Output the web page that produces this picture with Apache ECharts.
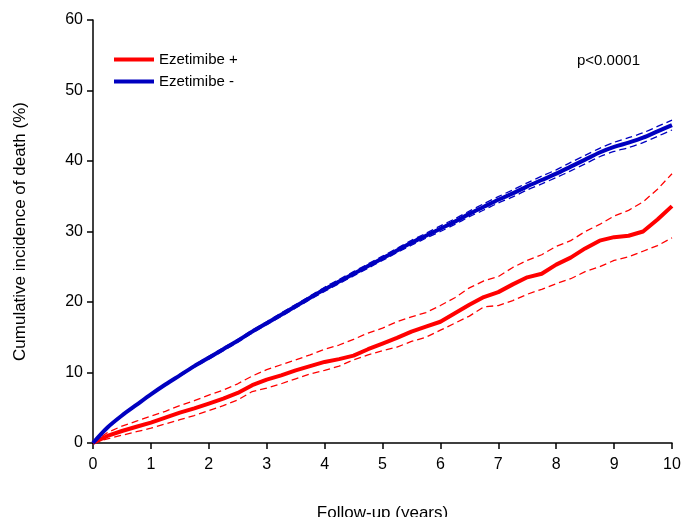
<!DOCTYPE html>
<html>
<head>
<meta charset="utf-8">
<script src="https://cdn.jsdelivr.net/npm/echarts@6/dist/echarts.min.js"></script>
<style>html,body{margin:0;padding:0;background:#fff;}#c{width:681px;height:517px;}</style>
</head>
<body>
<div id="c"></div>
<script>
var years = [0,0.25,0.5,0.75,1,1.25,1.5,1.75,2,2.25,2.5,2.75,3,3.25,3.5,3.75,4,4.25,4.5,4.75,5,5.25,5.5,5.75,6,6.25,6.5,6.75,7,7.25,7.5,7.75,8,8.25,8.5,8.75,9,9.25,9.5,9.75,10];
var yTicks = [0,10,20,30,40,50,60];
var redMain = [0,1.0,1.7,2.3,2.9,3.6,4.3,4.9,5.6,6.3,7.1,8.2,9.0,9.6,10.3,10.9,11.5,11.9,12.4,13.3,14.1,14.9,15.8,16.5,17.2,18.4,19.6,20.7,21.4,22.5,23.5,24.0,25.3,26.3,27.6,28.7,29.2,29.4,30.0,31.7,33.6];
var redHi = [0,1.5,2.4,3.1,3.8,4.5,5.3,6.0,6.8,7.5,8.4,9.5,10.4,11.1,11.8,12.5,13.3,13.9,14.7,15.6,16.3,17.2,17.9,18.5,19.5,20.6,22.0,23.0,23.6,24.9,25.9,26.7,27.9,28.7,30.0,31.0,32.2,33.0,34.2,36.0,38.2];
var redLo = [0,0.6,1.1,1.6,2.1,2.7,3.3,3.9,4.6,5.3,6.1,7.3,7.8,8.4,9.1,9.8,10.3,10.9,11.8,12.5,13.1,13.6,14.4,15.0,16.0,17.0,18.0,19.3,19.5,20.2,21.1,21.8,22.6,23.3,24.3,25.0,25.9,26.4,27.2,28.0,29.1];
var blueMain = [0,2.2,3.9,5.4,6.9,8.3,9.6,10.9,12.1,13.3,14.5,15.8,17.0,18.2,19.4,20.6,21.8,22.9,24.0,25.1,26.2,27.3,28.4,29.4,30.4,31.4,32.5,33.5,34.5,35.4,36.4,37.3,38.2,39.2,40.2,41.2,42.0,42.6,43.3,44.2,45.1];
var blueHi = [0,2.25,3.95,5.5,7.0,8.4,9.75,11.05,12.3,13.5,14.7,16.0,17.2,18.45,19.65,20.85,22.1,23.2,24.3,25.4,26.5,27.6,28.75,29.75,30.8,31.8,32.9,33.95,34.95,35.9,36.9,37.85,38.75,39.8,40.8,41.8,42.65,43.3,44.0,44.9,45.8];
var blueLo = [0,2.15,3.85,5.3,6.8,8.2,9.45,10.75,11.9,13.1,14.3,15.6,16.8,17.95,19.15,20.35,21.5,22.6,23.7,24.8,25.9,27.0,28.05,29.05,30.0,31.0,32.1,33.05,34.05,34.9,35.9,36.75,37.65,38.6,39.6,40.6,41.35,41.9,42.6,43.5,44.4];

function pts(arr){ return years.map(function(t,i){ return [t, arr[i]]; }); }
var RED = '#ff0000', BLUE = '#0000c0';
var FONT = 'Liberation Sans, Arial, sans-serif';

var chart = echarts.init(document.getElementById('c'), null, {renderer:'canvas'});
chart.setOption({
  animation: false,
  backgroundColor: '#fff',
  grid: {left: 93, right: 9, top: 20, bottom: 74, containLabel: false, outerBoundsMode: 'none'},
  legend: {
    data: ['Ezetimibe +', 'Ezetimibe -'],
    orient: 'vertical', left: 109, top: 47, itemGap: 7,
    itemWidth: 40, itemHeight: 4, icon: 'rect',
    textStyle: {fontFamily: FONT, fontSize: 15, color: '#000'}
  },
  graphic: [{
    type: 'text', left: 577, top: 53,
    style: {text: 'p<0.0001', fontFamily: FONT, fontSize: 15, fill: '#000'}
  }],
  xAxis: {
    type: 'value', min: 0, max: 10, interval: 1,
    name: 'Follow-up (years)', nameLocation: 'middle', nameGap: 62,
    nameTextStyle: {fontFamily: FONT, fontSize: 17, color: '#000'},
    axisLine: {show: true, lineStyle: {color: '#000', width: 1.5}},
    axisTick: {show: true, length: 6, lineStyle: {color: '#000', width: 1.5}},
    axisLabel: {fontFamily: FONT, fontSize: 16, color: '#000', margin: 14},
    splitLine: {show: false}
  },
  yAxis: {
    type: 'value', min: 0, max: 60, interval: 10,
    name: 'Cumulative incidence of death (%)', nameLocation: 'middle', nameGap: 64,
    nameTextStyle: {fontFamily: FONT, fontSize: 17, color: '#000'},
    axisLine: {show: true, lineStyle: {color: '#000', width: 1.5}},
    axisTick: {show: true, length: 6, lineStyle: {color: '#000', width: 1.5}},
    axisLabel: {fontFamily: FONT, fontSize: 16, color: '#000', margin: 10,
      formatter: function(v){ return yTicks.indexOf(v) >= 0 ? String(v) : ''; }},
    splitLine: {show: false}
  },
  series: [
    {name: 'Ezetimibe + upper', type: 'line', data: pts(redHi), showSymbol: false,
     lineStyle: {color: RED, width: 1.3, type: [7, 4]}, z: 2},
    {name: 'Ezetimibe + lower', type: 'line', data: pts(redLo), showSymbol: false,
     lineStyle: {color: RED, width: 1.3, type: [7, 4]}, z: 2},
    {name: 'Ezetimibe - upper', type: 'line', data: pts(blueHi), showSymbol: false, smooth: 0.3,
     lineStyle: {color: BLUE, width: 1.3, type: [7, 4]}, z: 2},
    {name: 'Ezetimibe - lower', type: 'line', data: pts(blueLo), showSymbol: false, smooth: 0.3,
     lineStyle: {color: BLUE, width: 1.3, type: [7, 4]}, z: 2},
    {name: 'Ezetimibe +', type: 'line', data: pts(redMain), showSymbol: false,
     itemStyle: {color: RED}, lineStyle: {color: RED, width: 4}, z: 3},
    {name: 'Ezetimibe -', type: 'line', data: pts(blueMain), showSymbol: false, smooth: 0.3,
     itemStyle: {color: BLUE}, lineStyle: {color: BLUE, width: 4}, z: 3}
  ]
});
</script>
</body>
</html>
